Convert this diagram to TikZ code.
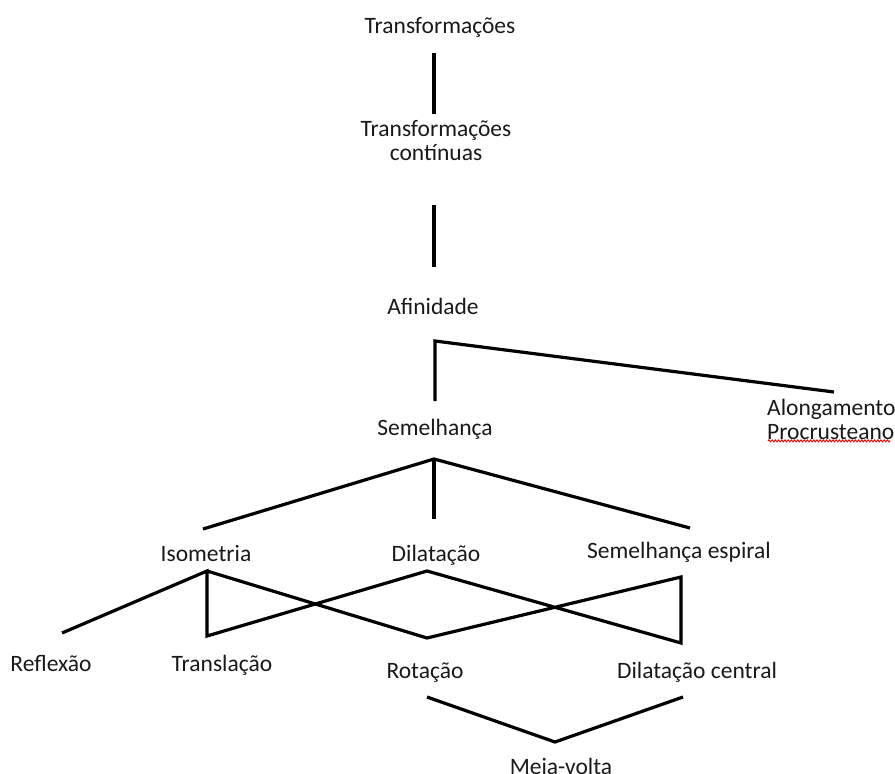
\documentclass[tikz,border=0pt]{standalone}
\usepackage{fontspec}
\setmainfont{Carlito}
\usetikzlibrary{decorations.pathmorphing,calc}
\begin{document}
\begin{tikzpicture}[x=1pt,y=-1pt,
  lbl/.style={inner sep=0pt,anchor=base,font=\fontsize{23.5}{24}\selectfont,text=black!90},
  edge/.style={line width=3.2pt,black,line join=miter},
  squiggle/.style={red!85!black,line width=0.9pt,decorate,
    decoration={snake,amplitude=1pt,segment length=3.2pt}}]
\useasboundingbox (0,0) rectangle (895,774);

% labels (placed by baseline)
\node[lbl] (tr)   at (440,33)  {Transformações};
\node[lbl,align=center] (tc) at (436,160) {Transformações\\contínuas};
\node[lbl] (af)   at (433,314) {Afinidade};
\node[lbl] (se)   at (435,435) {Semelhança};
\node[lbl,anchor=base west,align=left] (al) at (767,439) {Alongamento\\Procrusteano};
\node[lbl] (iso)  at (206,561) {Isometria};
\node[lbl] (dil)  at (436,561) {Dilatação};
\node[lbl] (sesp) at (679,558) {Semelhança espiral};
\node[lbl] (ref)  at (51,671)  {Reflexão};
\node[lbl] (tra)  at (222,671) {Translação};
\node[lbl] (rot)  at (425,678) {Rotação};
\node[lbl] (dc)   at (697,678) {Dilatação central};
\node[lbl] (mv)   at (561,774) {Meia-volta};

% branch points and free ends
\coordinate (t1a) at (434,53);  \coordinate (t1b) at (434,114);
\coordinate (t2a) at (434,205); \coordinate (t2b) at (434,267);
\coordinate (afj) at (435,341); \coordinate (afs) at (435,401); \coordinate (afa) at (834,392);
\coordinate (sej) at (434,459); \coordinate (sei) at (203,529);
\coordinate (sed) at (434,519); \coordinate (ses) at (690,528);
\coordinate (isj) at (207,571); \coordinate (isr) at (62,633); \coordinate (ist) at (207,636);
\coordinate (dij) at (427,571); \coordinate (rtj) at (427,638);
\coordinate (spj) at (681,577); \coordinate (dcj) at (681,643);
\coordinate (rtb) at (427,697); \coordinate (mvj) at (555,742); \coordinate (dcb) at (683,697);

% connectors
\draw[edge] (t1a) -- (t1b);
\draw[edge] (t2a) -- (t2b);
\draw[edge] (afs) -- (afj) -- (afa);
\draw[edge] (sei) -- (sej) -- (ses);
\draw[edge] (sej) -- (sed);
\draw[edge] (isr) -- (isj) -- (ist) -- (dij) -- (dcj) -- (spj) -- (rtj) -- (isj);
\draw[edge] (rtb) -- (mvj) -- (dcb);

% spell-check underline
\draw[squiggle] ($(al.south west)+(1,1.5)$) -- ($(al.south west)+(123,1.5)$);
\end{tikzpicture}
\end{document}
